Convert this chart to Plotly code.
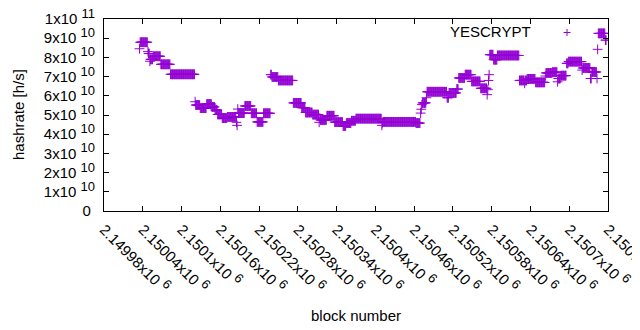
import plotly.graph_objects as go

# ---- data (runs of consecutive blocks with equal hashrate) ----
run_first_block = [2150035, 2150036, 2150048, 2150049, 2150051, 2150052, 2150056, 2150068, 2150083, 2150121,
                   2150122, 2150129, 2150139, 2150147, 2150152, 2150156, 2150163, 2150171, 2150185, 2150186,
                   2150187, 2150188, 2150198, 2150208, 2150217, 2150227, 2150238, 2150240, 2150250, 2150273,
                   2150286, 2150292, 2150303, 2150313, 2150314, 2150315, 2150325, 2150337, 2150350, 2150355,
                   2150363, 2150370, 2150410, 2150411, 2150412, 2150463, 2150470, 2150471, 2150472, 2150473,
                   2150479, 2150480, 2150511, 2150514, 2150526, 2150529, 2150539, 2150549, 2150563, 2150573,
                   2150574, 2150575, 2150576, 2150577, 2150583, 2150589, 2150623, 2150631, 2150632, 2150635,
                   2150648, 2150663, 2150664, 2150674, 2150682, 2150683, 2150687, 2150696, 2150699, 2150720,
                   2150721, 2150733, 2150735, 2150743, 2150744, 2150745, 2150756]
run_last_block = [2150035, 2150047, 2150048, 2150050, 2150051, 2150055, 2150067, 2150082, 2150120, 2150121,
                  2150128, 2150138, 2150146, 2150151, 2150155, 2150162, 2150170, 2150184, 2150185, 2150186,
                  2150187, 2150197, 2150207, 2150216, 2150226, 2150237, 2150239, 2150249, 2150272, 2150285,
                  2150291, 2150302, 2150312, 2150313, 2150314, 2150324, 2150336, 2150349, 2150354, 2150362,
                  2150369, 2150409, 2150410, 2150411, 2150462, 2150469, 2150470, 2150471, 2150472, 2150478,
                  2150479, 2150510, 2150513, 2150525, 2150528, 2150538, 2150548, 2150562, 2150572, 2150573,
                  2150574, 2150575, 2150576, 2150582, 2150588, 2150622, 2150630, 2150631, 2150634, 2150647,
                  2150662, 2150663, 2150673, 2150681, 2150682, 2150686, 2150695, 2150698, 2150719, 2150720,
                  2150732, 2150734, 2150742, 2150743, 2150744, 2150755, 2150757]
run_hashrate = [8.45e10, 8.79e10, 8.30e10, 8.20e10, 7.80e10, 7.90e10, 8.06e10, 7.64e10, 7.12e10, 5.69e10,
                5.52e10, 5.36e10, 5.57e10, 5.42e10, 5.26e10, 5.03e10, 4.84e10, 4.90e10, 4.62e10, 4.46e10,
                5.31e10, 5.10e10, 5.47e10, 5.09e10, 4.64e10, 5.09e10, 7.10e10, 6.98e10, 6.80e10, 5.63e10,
                5.38e10, 5.13e10, 5.02e10, 4.62e10, 4.84e10, 4.74e10, 4.96e10, 4.63e10, 4.43e10, 4.58e10,
                4.70e10, 4.81e10, 4.46e10, 4.60e10, 4.64e10, 4.58e10, 5.10e10, 5.30e10, 5.54e10, 5.63e10,
                5.90e10, 6.21e10, 5.90e10, 6.15e10, 6.35e10, 6.93e10, 7.10e10, 6.75e10, 6.39e10, 6.06e10,
                6.32e10, 6.80e10, 7.10e10, 8.14e10, 7.88e10, 8.10e10, 6.80e10, 6.65e10, 6.80e10, 6.88e10,
                6.70e10, 7.03e10, 7.19e10, 7.23e10, 6.73e10, 6.90e10, 7.05e10, 7.69e10, 7.78e10, 7.34e10,
                7.45e10, 6.90e10, 7.24e10, 6.90e10, 8.42e10, 9.25e10, 8.90e10]

x_tick_values = [2149980, 2150040, 2150100, 2150160, 2150220, 2150280, 2150340,
                 2150400, 2150460, 2150520, 2150580, 2150640, 2150700, 2150760]
x_tick_mantissa = ["2.14998", "2.15004", "2.1501", "2.15016", "2.15022", "2.15028", "2.15034",
                   "2.1504", "2.15046", "2.15052", "2.15058", "2.15064", "2.1507", "2.15076"]
y_tick_values = [0, 1e10, 2e10, 3e10, 4e10, 5e10, 6e10, 7e10, 8e10, 9e10, 1e11]
y_tick_labels = ["0", "1x10", "2x10", "3x10", "4x10", "5x10", "6x10", "7x10", "8x10", "9x10", "1x10"]
y_tick_exponents = ["", "10", "10", "10", "10", "10", "10", "10", "10", "10", "11"]

series_name = "YESCRYPT"
x_title = "block number"
y_title = "hashrate [h/s]"

# ---- expand runs to one point per block ----
blocks, rates = [], []
for a, b, v in zip(run_first_block, run_last_block, run_hashrate):
    for blk in range(a, b + 1):
        blocks.append(blk)
        rates.append(v)

COLOR = "#9400D3"
FONT = "Liberation Sans, Arial, sans-serif"
FS = 15
SUP = '<sup><span style="font-size:13px">%s</span></sup>'

x_ticktext = [m + "x10 " + SUP % "6" for m in x_tick_mantissa]
y_ticktext = [t + (" " + SUP % e if e else "\u00a0") for t, e in zip(y_tick_labels, y_tick_exponents)]

fig = go.Figure()
fig.add_trace(go.Scatter(
    x=blocks, y=rates, mode="markers", name=series_name, showlegend=False,
    marker=dict(symbol="cross-thin", size=7, color=COLOR, line=dict(color=COLOR, width=1)),
))

axis_common = dict(showline=True, linecolor="black", linewidth=1, mirror="ticks",
                   ticks="inside", ticklen=5, tickcolor="black", showgrid=False, zeroline=False,
                   automargin=False, ticklabeloverflow="allow",
                   tickfont=dict(family=FONT, size=FS, color="black"))

# the page body has an 8px default margin, so the figure is 8px smaller and margins shifted
fig.update_layout(
    width=632, height=322,
    margin=dict(l=96, r=32, t=11, b=119),
    paper_bgcolor="white", plot_bgcolor="white",
    font=dict(family=FONT, size=FS, color="black"),
    xaxis=dict(range=[2149980, 2150760], tickmode="array", tickvals=x_tick_values,
               ticktext=x_ticktext, tickangle=45, ticklabelstandoff=3, **axis_common),
    yaxis=dict(range=[0, 1e11], tickmode="array", tickvals=y_tick_values,
               ticktext=y_ticktext, ticklabelstandoff=5, **axis_common),
    annotations=[
        dict(text=x_title, xref="paper", yref="paper", x=0.5, y=-0.5417, showarrow=False,
             xanchor="center", yanchor="middle", font=dict(family=FONT, size=FS)),
        dict(text=y_title, xref="paper", yref="paper", x=-0.1706, y=0.5, showarrow=False,
             textangle=-90, xanchor="center", yanchor="middle", font=dict(family=FONT, size=FS)),
        dict(text=series_name, xref="paper", yref="paper", x=0.8512, y=0.9375, showarrow=False,
             xanchor="right", yanchor="middle", font=dict(family=FONT, size=FS)),
    ],
    shapes=[
        dict(type="line", xref="paper", yref="paper", x0=0.9187 - 0.0069, x1=0.9187 + 0.0069,
             y0=0.9297, y1=0.9297, line=dict(color=COLOR, width=1)),
        dict(type="line", xref="paper", yref="paper", x0=0.9187, x1=0.9187,
             y0=0.9297 - 0.0182, y1=0.9297 + 0.0182, line=dict(color=COLOR, width=1)),
    ],
)

fig.write_html("out.html")
